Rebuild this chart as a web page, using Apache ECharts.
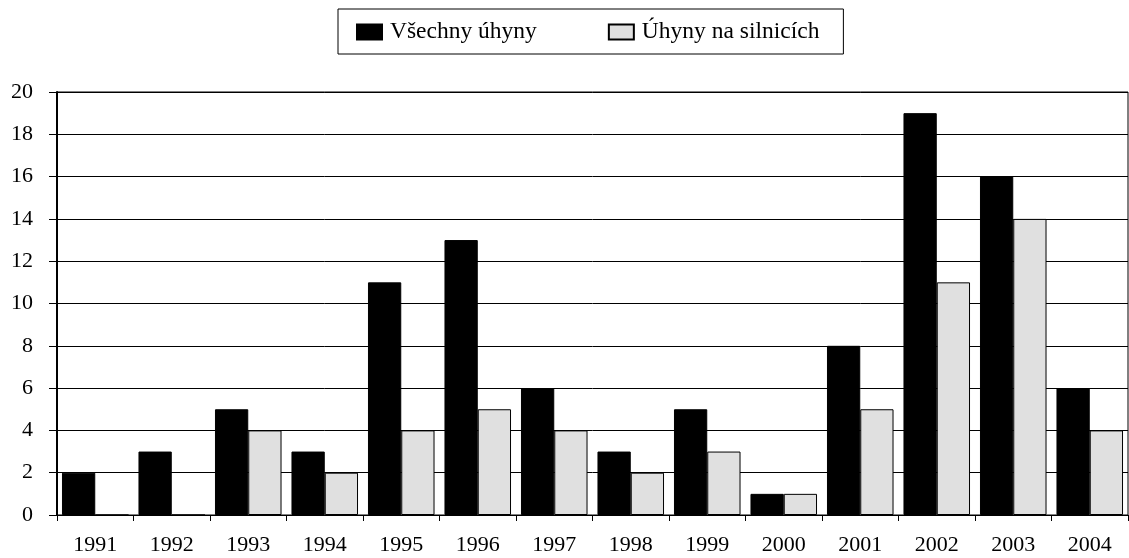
<!DOCTYPE html>
<html><head><meta charset="utf-8">
<script src="https://cdn.jsdelivr.net/npm/echarts@6/dist/echarts.min.js"></script>
<style>html,body{margin:0;padding:0;background:#fff}#c{width:1129px;height:558px}</style>
</head><body><div id="c"></div>
<script>
const years = ['1991','1992','1993','1994','1995','1996','1997','1998','1999','2000','2001','2002','2003','2004'];
const allDeaths = [2,3,5,3,11,13,6,3,5,1,8,19,16,6];
const roadDeaths = [0,0,4,2,4,5,4,2,3,1,5,11,14,4];
const font = 'Liberation Serif';
const chart = echarts.init(document.getElementById('c'));
chart.setOption({
  animation:false,
  textStyle:{fontFamily:font},
  legend:{
    top:9, left:338,
    borderColor:'#000', borderWidth:1,
    padding:[11,24,10,18],
    icon:'rect',
    itemWidth:25, itemHeight:15, itemGap:71,
    textStyle:{fontFamily:font,fontSize:23.5,color:'#000',padding:[0,0,0,3]},
    data:['Všechny úhyny','Úhyny na silnicích']
  },
  grid:{left:57,right:1,top:92,bottom:43,show:true,borderColor:'#000',borderWidth:1,containLabel:false},
  xAxis:{
    type:'category', data:years,
    axisLine:{lineStyle:{color:'#000',width:1}},
    axisTick:{show:true,length:6,inside:false,lineStyle:{color:'#000'}},
    axisLabel:{color:'#000',fontSize:22,fontFamily:font,margin:19}
  },
  yAxis:{
    type:'value', min:0, max:20, interval:2,
    axisLine:{show:true,lineStyle:{color:'#000',width:2}},
    axisTick:{show:true,length:8,lineStyle:{color:'#000'}},
    splitLine:{lineStyle:{color:'#000',width:1}},
    axisLabel:{color:'#000',fontSize:22,fontFamily:font,margin:24}
  },
  series:[
    {name:'Všechny úhyny',type:'bar',data:allDeaths,barGap:'0%',barCategoryGap:'13%',
     itemStyle:{color:'#000',borderColor:'#000',borderWidth:1}},
    {name:'Úhyny na silnicích',type:'bar',data:roadDeaths,
     itemStyle:{color:'#e0e0e0',borderColor:'#000',borderWidth:1}}
  ]
});
</script></body></html>
